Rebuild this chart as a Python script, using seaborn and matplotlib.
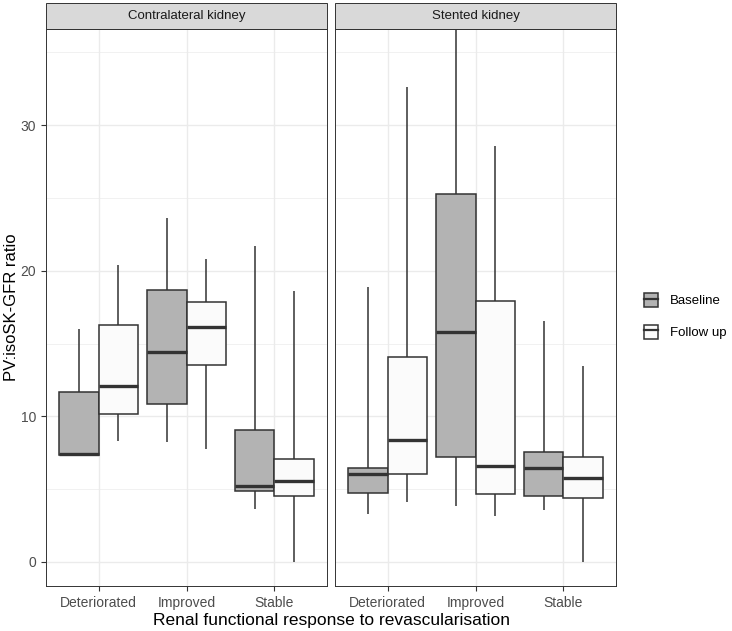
import pandas as pd
import matplotlib.pyplot as plt
import seaborn as sns
from matplotlib.patches import Patch, Rectangle
from matplotlib.lines import Line2D

# categories / groups
responses = ["Deteriorated", "Improved", "Stable"]
timepoints = ["Baseline", "Follow up"]
panels = ["Contralateral kidney", "Stented kidney"]

# five-number summaries: [min, Q1, median, Q3, max]
contra_baseline = [
    [7.33, 7.33, 7.40, 11.65, 16.0],
    [8.27, 10.88, 14.43, 18.65, 23.62],
    [3.64, 4.88, 5.25, 9.07, 21.67],
]
contra_followup = [
    [8.30, 10.15, 12.05, 16.24, 20.4],
    [7.79, 13.56, 16.15, 17.82, 20.8],
    [0.02, 4.50, 5.55, 7.10, 18.6],
]
stented_baseline = [
    [3.32, 4.76, 6.05, 6.46, 18.88],
    [3.85, 7.24, 15.78, 25.25, 37.5],
    [3.57, 4.56, 6.46, 7.54, 16.58],
]
stented_followup = [
    [4.10, 6.03, 8.41, 14.07, 32.6],
    [3.18, 4.67, 6.60, 17.94, 28.54],
    [0.02, 4.40, 5.77, 7.20, 13.45],
]

yticks = [0, 10, 20, 30]

rows = []
for panel, series in zip(panels, [(contra_baseline, contra_followup),
                                  (stented_baseline, stented_followup)]):
    for tp, stats in zip(timepoints, series):
        for resp, vals in zip(responses, stats):
            for v in vals:
                rows.append({"panel": panel, "time": tp, "response": resp, "ratio": v})
df = pd.DataFrame(rows)

palette = {"Baseline": "#b3b3b3", "Follow up": "#fbfbfb"}
edge = "#333333"

plt.rcParams["font.family"] = ["Liberation Sans", "DejaVu Sans"]

fig = plt.figure(figsize=(7.32, 6.31), dpi=100)
W, H = 732, 631
axes = []
for left in [46, 335]:
    ax = fig.add_axes([left / W, 1 - 586 / H, 281 / W, 557 / H])
    axes.append(ax)

for ax, panel in zip(axes, panels):
    sub = df[df["panel"] == panel]
    ax.set_axisbelow(True)
    sns.boxplot(data=sub, x="response", y="ratio", hue="time", order=responses,
                hue_order=timepoints, palette=palette, saturation=1, whis=(0, 100),
                width=0.9, gap=0, linecolor=edge, linewidth=1.1,
                medianprops={"linewidth": 2.4, "color": edge},
                showcaps=False, showfliers=False, legend=False, ax=ax)
    ax.set_xlim(-0.6, 2.6)
    ax.set_ylim(-1.65, 36.6)
    ax.set_yticks(yticks)
    ax.set_yticks([5, 15, 25, 35], minor=True)
    ax.grid(True, which="major", color="#ebebeb", linewidth=1.0)
    ax.grid(True, which="minor", axis="y", color="#ebebeb", linewidth=0.5)
    for s in ax.spines.values():
        s.set_color(edge)
        s.set_linewidth(0.7)
    ax.tick_params(axis="both", which="major", color=edge, length=3.5, width=0.8,
                   labelcolor="#4d4d4d", labelsize=10)
    ax.tick_params(axis="y", which="minor", length=0)
    ax.set_xlabel("")
    ax.set_ylabel("")
    # facet strip
    strip_h = 26 / 557
    ax.add_patch(Rectangle((0, 1), 1, strip_h, transform=ax.transAxes,
                           facecolor="#d9d9d9", edgecolor=edge, linewidth=0.7,
                           clip_on=False))
    ax.text(0.5, 1 + strip_h / 2, panel, transform=ax.transAxes, ha="center",
            va="center", fontsize=9.5, color="#1a1a1a")

axes[1].tick_params(axis="y", labelleft=False, length=0)
fig.text(12 / W, 1 - 307 / H, "PV:isoSK-GFR ratio", rotation=90, ha="center",
         va="center", fontsize=12, color="black")
fig.text((46 + 617) / 2 / W, 1 - 620 / H, "Renal functional response to revascularisation",
         ha="center", va="center", fontsize=12.5, color="black")

handles = [(Patch(facecolor=palette[t], edgecolor=edge, linewidth=1.1),
            Line2D([], [], color=edge, linewidth=1.6)) for t in timepoints]
fig.legend(handles=handles, labels=timepoints, loc="center left",
           bbox_to_anchor=(644 / W, 1 - 316 / H), borderpad=0, borderaxespad=0,
           frameon=False, fontsize=9.5, handlelength=1.05, handleheight=1.3,
           labelspacing=1.3, handletextpad=0.9)

fig.savefig("out.png", dpi=100)
